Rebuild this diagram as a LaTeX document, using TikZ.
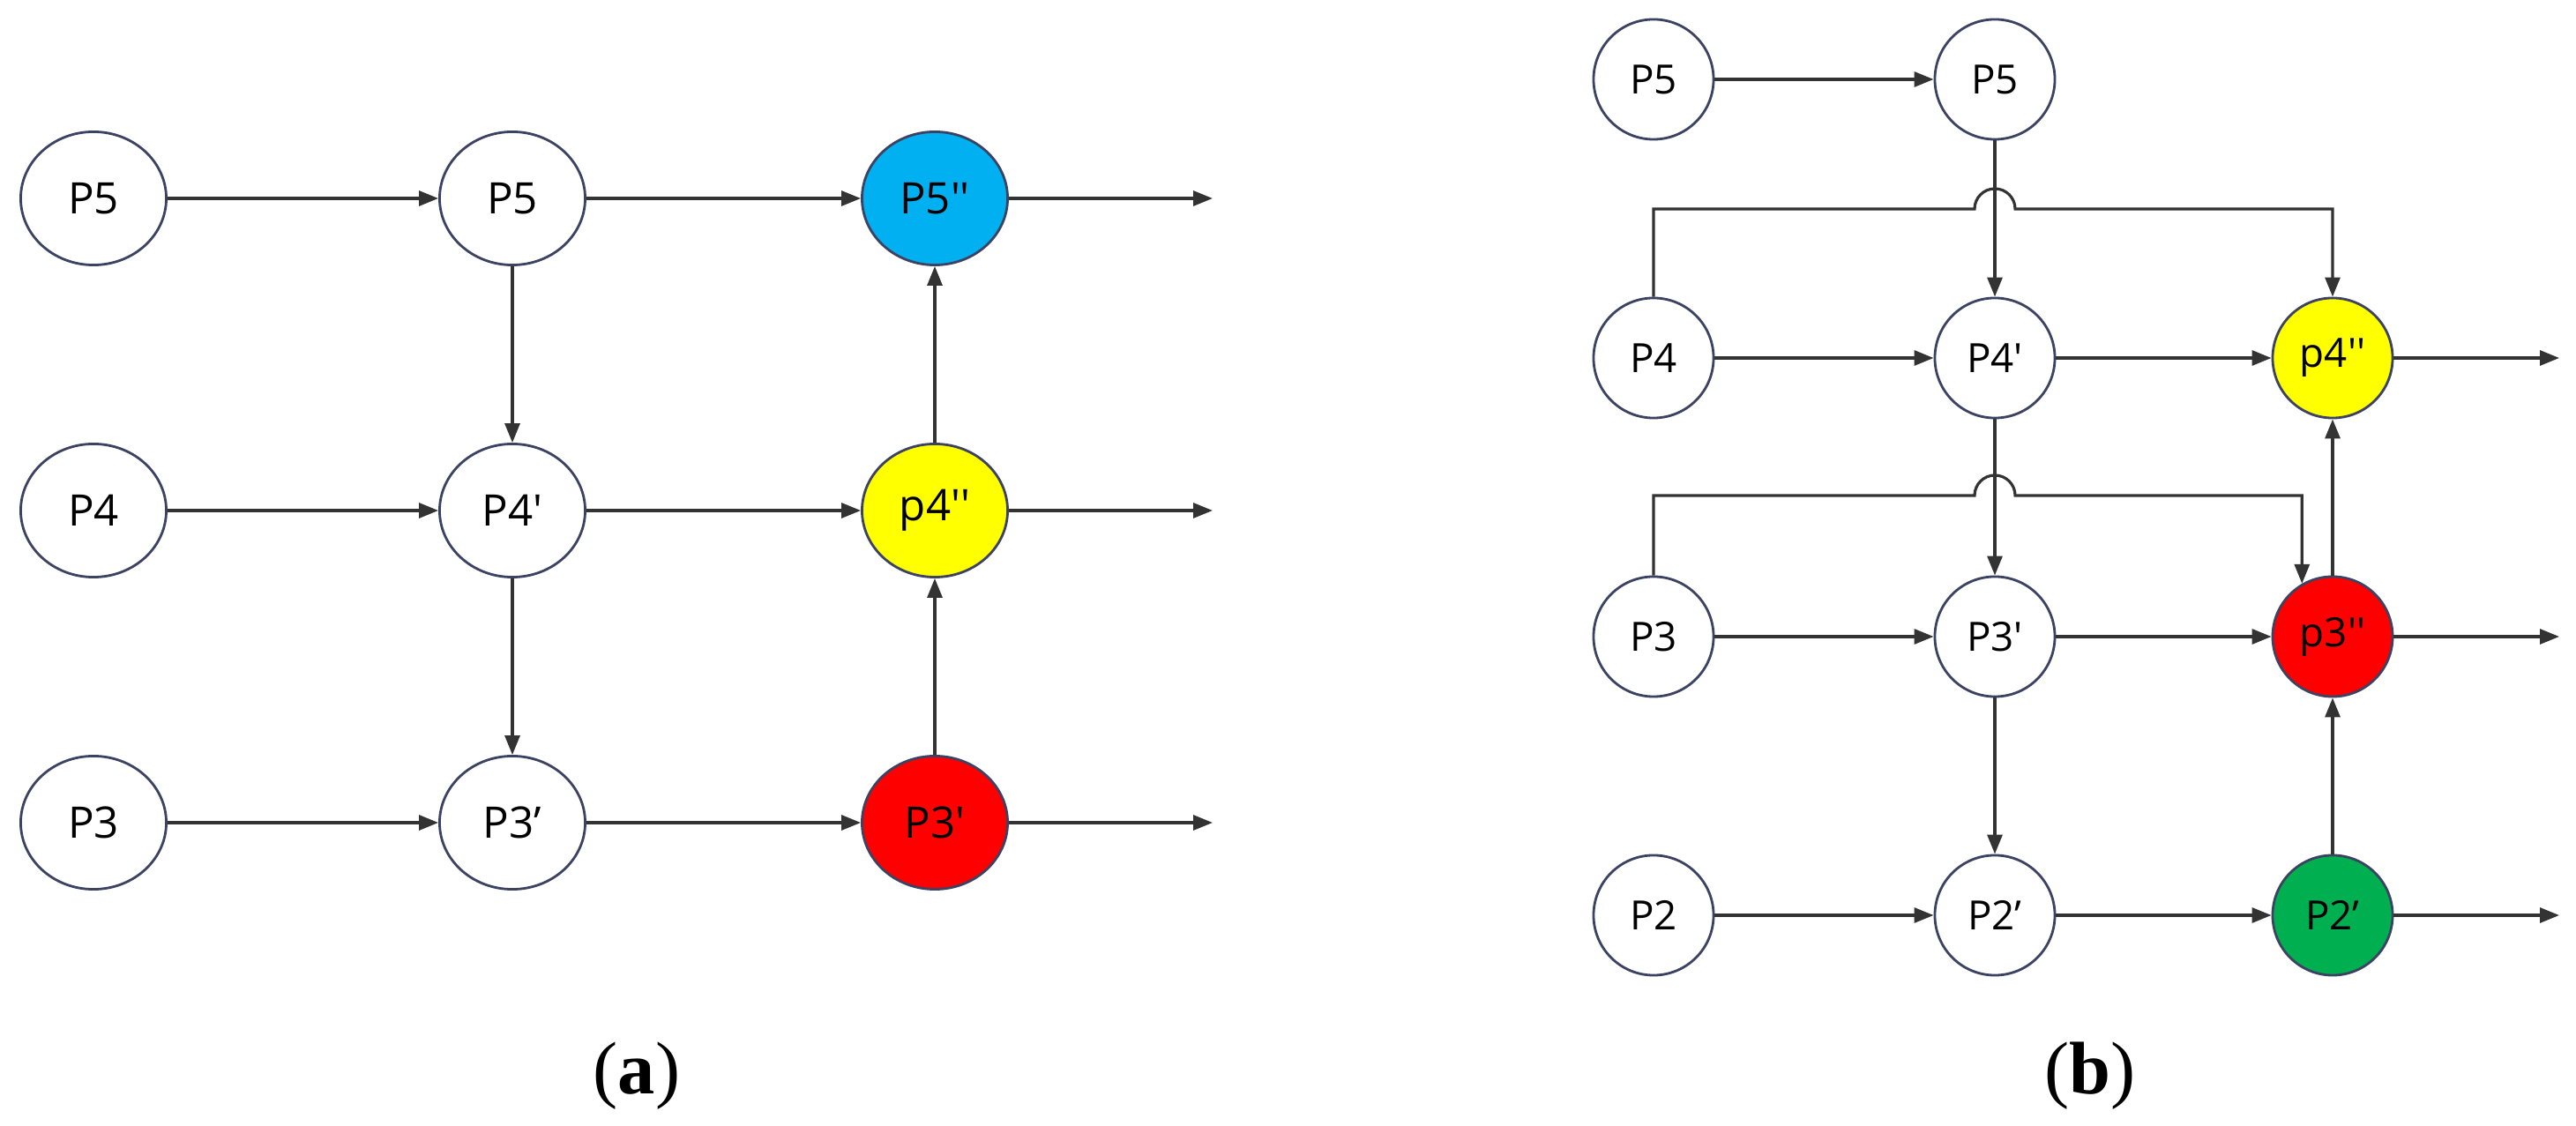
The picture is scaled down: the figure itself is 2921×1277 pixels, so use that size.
\documentclass[tikz,border=0pt]{standalone}
\usepackage{fontspec}
\setmainfont{Liberation Serif}
\newfontfamily\lab{Open Sans}
\usetikzlibrary{arrows.meta,shapes.geometric}
\definecolor{ring}{HTML}{3C4262}
\definecolor{cblue}{HTML}{00B0F0}
\definecolor{cyel}{HTML}{FFFF00}
\definecolor{cred}{HTML}{FF0000}
\definecolor{cgreen}{HTML}{00B050}
\begin{document}
\begin{tikzpicture}[x=0.01cm,y=-0.01cm,
  na/.style={ellipse,draw=ring,line width=0.8pt,minimum width=1.65cm,minimum height=1.51cm,inner sep=0pt,font=\lab\fontsize{14}{14}\selectfont},
  nb/.style={circle,draw=ring,line width=0.8pt,minimum size=1.36cm,inner sep=0pt,font=\lab\fontsize{13}{13}\selectfont},
  ar/.style={draw=black!80,line width=0.9pt,-{Triangle[length=0.22cm,width=0.17cm]}},
  subcap/.style={font=\fontsize{24}{24}\selectfont}]
\useasboundingbox (0,0) rectangle (2921,1277);
% panel (a)
\node[na] (a11) at (106,225) {P5};
\node[na] (a12) at (581,225) {P5};
\node[na,fill=cblue] (a13) at (1060,225) {P5''};
\node[na] (a21) at (106,579) {P4};
\node[na] (a22) at (581,579) {P4'};
\node[na,fill=cyel] (a23) at (1060,579) {p4''};
\node[na] (a31) at (106,933) {P3};
\node[na] (a32) at (581,933) {P3\textquoteright};
\node[na,fill=cred] (a33) at (1060,933) {P3'};
\coordinate (ao1) at (1375,225);
\coordinate (ao2) at (1375,579);
\coordinate (ao3) at (1375,933);
\foreach \r in {1,2,3}{
  \draw[ar] (a\r1) -- (a\r2);
  \draw[ar] (a\r2) -- (a\r3);
  \draw[ar] (a\r3) -- (ao\r);}
\draw[ar] (a12) -- (a22);
\draw[ar] (a22) -- (a32);
\draw[ar] (a33) -- (a23);
\draw[ar] (a23) -- (a13);
\node[subcap] (la) at (722,1220) {(\textbf{a})};
% panel (b)
\node[nb] (b11) at (1875,90) {P5};
\node[nb] (b12) at (2262,90) {P5};
\node[nb] (b21) at (1875,406) {P4};
\node[nb] (b22) at (2262,406) {P4'};
\node[nb,fill=cyel] (b23) at (2645,406) {p4''};
\node[nb] (b31) at (1875,722) {P3};
\node[nb] (b32) at (2262,722) {P3'};
\node[nb,fill=cred] (b33) at (2645,722) {p3''};
\node[nb] (b41) at (1875,1038) {P2};
\node[nb] (b42) at (2262,1038) {P2\textquoteright};
\node[nb,fill=cgreen] (b43) at (2645,1038) {P2\textquoteright};
\coordinate (bo2) at (2902,406);
\coordinate (bo3) at (2902,722);
\coordinate (bo4) at (2902,1038);
\draw[ar] (b11) -- (b12);
\foreach \r in {2,3,4}{
  \draw[ar] (b\r1) -- (b\r2);
  \draw[ar] (b\r2) -- (b\r3);
  \draw[ar] (b\r3) -- (bo\r);}
\draw[ar] (b12) -- (b22);
\draw[ar] (b22) -- (b32);
\draw[ar] (b32) -- (b42);
\draw[ar] (b43) -- (b33);
\draw[ar] (b33) -- (b23);
\coordinate (h1) at (2262,237);
\coordinate (h2) at (2262,562);
\draw[ar] (b21.north) -- (b21.north |- h1) -- ([xshift=-0.23cm]h1) arc[start angle=180,end angle=0,radius=0.23cm] -- (b23.north |- h1) -- (b23.north);
\draw[ar] (b31.north) -- (b31.north |- h2) -- ([xshift=-0.23cm]h2) arc[start angle=180,end angle=0,radius=0.23cm] -- (b33.120 |- h2) -- (b33.120);
\node[subcap] (lb) at (2370,1220) {(\textbf{b})};
\end{tikzpicture}
\end{document}
